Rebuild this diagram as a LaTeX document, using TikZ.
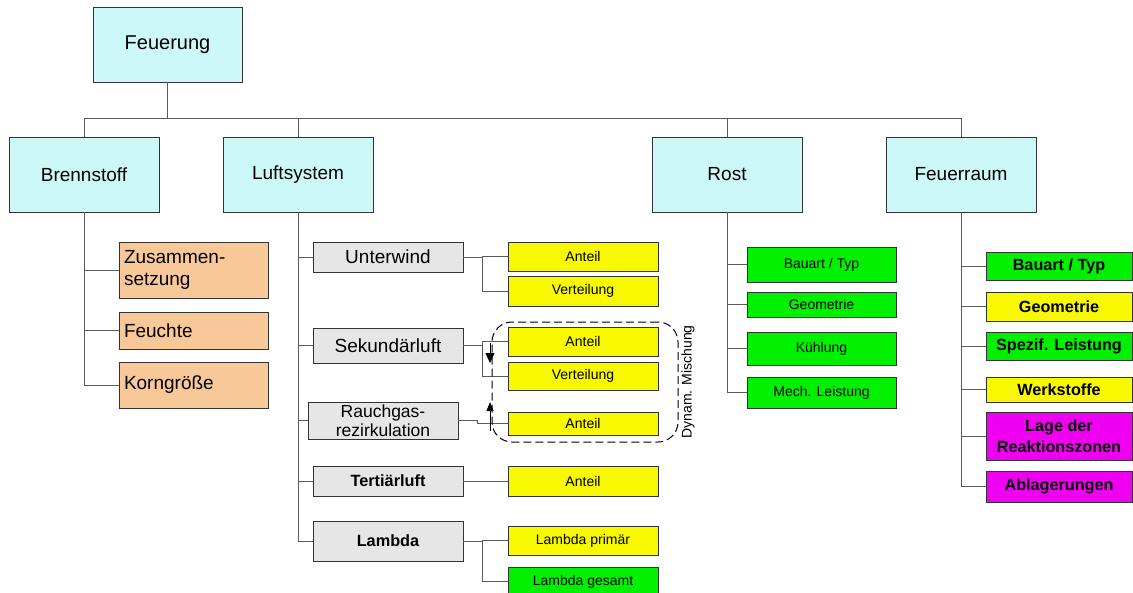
\documentclass[tikz,border=0pt]{standalone}
\usepackage{fontspec}
\setmainfont{Liberation Sans}
\usetikzlibrary{arrows.meta}
\definecolor{cyanbox}{RGB}{204,248,248}
\definecolor{yelbox}{RGB}{248,248,0}
\definecolor{grnbox}{RGB}{0,240,0}
\definecolor{magbox}{RGB}{240,0,240}
\definecolor{grybox}{RGB}{230,230,230}
\definecolor{pchbox}{RGB}{248,200,152}
\definecolor{lncol}{RGB}{90,90,90}
\newcommand{\bx}[7]{\node[#2, minimum width={#5-#3}, minimum height={#6-#4}] (#1) at ({(#3+#5)/2},{(#4+#6)/2}) {#7};}
\tikzset{
  box/.style={draw=black!80, line width=0.9pt, inner sep=0pt, outer sep=0pt, align=center},
  topbox/.style={box, fill=cyanbox, font=\fontsize{19}{22}\selectfont},
  rootbox/.style={box, fill=cyanbox, font=\fontsize{20}{24}\selectfont},
  pchnode/.style={box, fill=pchbox, font=\fontsize{19}{22}\selectfont, align=left, text width=139pt, inner xsep=5pt},
  grynode/.style={box, fill=grybox, font=\fontsize{19}{20}\selectfont},
  gryrauch/.style={box, fill=grybox, font=\fontsize{17.5}{19.5}\selectfont},
  grybold/.style={box, fill=grybox, font=\fontsize{16.3}{19}\selectfont\bfseries},
  ysmall/.style={box, fill=yelbox, font=\fontsize{14}{16}\selectfont},
  gsmall/.style={box, fill=grnbox, font=\fontsize{14}{16}\selectfont},
  gbig/.style={box, fill=grnbox, font=\fontsize{16.2}{21}\selectfont\bfseries},
  ybig/.style={box, fill=yelbox, font=\fontsize{16.2}{21}\selectfont\bfseries},
  mbig/.style={box, fill=magbox, font=\fontsize{16.2}{21}\selectfont\bfseries},
  conn/.style={draw=lncol, line width=0.9pt},
}
\begin{document}
\begin{tikzpicture}[x=1pt, y=-1pt]
\useasboundingbox (0,0) rectangle (1133,592);
\clip (0,0) rectangle (1133,592);
\fill[white] (0,0) rectangle (1133,592);
% level 0 and 1
\bx{feu}{rootbox}{93}{7}{242}{82}{Feuerung}
\bx{brenn}{topbox}{9}{137}{159}{212}{Brennstoff}
\bx{luft}{topbox}{223}{137}{373}{212}{Luftsystem}
\bx{rost}{topbox}{652}{137}{802}{212}{Rost}
\bx{raum}{topbox}{886}{137}{1036}{212}{Feuerraum}
\coordinate (bar) at (0,118);
\draw[conn] (feu.south) -- (feu.south |- bar);
\draw[conn] (brenn.north) |- (raum.north |- bar) -- (raum.north);
\draw[conn] (luft.north) -- (luft.north |- bar);
\draw[conn] (rost.north) -- (rost.north |- bar);
% Brennstoff children
\bx{zus}{pchnode}{119}{242}{268}{298}{Zusammen-\\setzung}
\bx{feucht}{pchnode}{119}{312}{268}{349}{Feuchte}
\bx{korn}{pchnode}{119}{362}{268}{408}{Korngröße}
\draw[conn] (brenn.south) |- (korn.west);
\draw[conn] (brenn.south |- zus.west) -- (zus.west);
\draw[conn] (brenn.south |- feucht.west) -- (feucht.west);
% Luftsystem children
\bx{unter}{grynode}{313}{242}{463}{272}{Unterwind}
\bx{sek}{grynode}{313}{328}{463}{363}{Sekundärluft}
\bx{rauch}{gryrauch}{308}{402}{458}{439}{Rauchgas-\\rezirkulation}
\bx{tert}{grybold}{313}{466}{463}{496}{Tertiärluft}
\bx{lam}{grybold}{313}{521}{463}{561}{Lambda}
\draw[conn] (luft.south) |- (lam.west);
\draw[conn] (luft.south |- unter.west) -- (unter.west);
\draw[conn] (luft.south |- sek.west) -- (sek.west);
\draw[conn] (luft.south |- rauch.west) -- (rauch.west);
\draw[conn] (luft.south |- tert.west) -- (tert.west);
% yellow leaves
\bx{uant}{ysmall}{508}{242}{658}{271}{Anteil}
\bx{uvert}{ysmall}{508}{276}{658}{306}{Verteilung}
\bx{sant}{ysmall}{508}{327}{658}{356}{Anteil}
\bx{svert}{ysmall}{508}{362}{658}{390}{Verteilung}
\bx{rant}{ysmall}{508}{412}{658}{435}{Anteil}
\bx{tant}{ysmall}{508}{466}{658}{496}{Anteil}
\bx{lprim}{ysmall}{508}{526}{658}{555}{Lambda primär}
\bx{lges}{gsmall}{508}{567}{658}{596}{Lambda gesamt}
\coordinate (jx) at (482,0);
\draw[conn] (unter.east) -- (unter.east -| jx) |- (uvert.west);
\draw[conn] (unter.east -| jx) |- (uant.west);
\draw[conn] (sek.east) -- (sek.east -| jx) |- (svert.west);
\draw[conn] (sek.east -| jx) |- (sant.west);
\draw[conn] (rauch.east) -- ++(19,0) |- (rant.west);
\draw[conn] (tert.east) -- (tant.west);
\draw[conn] (lam.east) -- (lam.east -| jx) |- (lges.west);
\draw[conn] (lam.east -| jx) |- (lprim.west);
% mixing arrows and dashed region
\coordinate (d1) at (490,343);
\coordinate (d2) at (490,363);
\coordinate (u1) at (490,431);
\coordinate (u2) at (490,402);
\draw[line width=0.8pt, -{Triangle[width=9pt,length=10pt]}] (d1) -- (d2);
\draw[line width=0.8pt, -{Triangle[width=7pt,length=9pt]}] (u1) -- (u2);
\node[draw=black, line width=1pt, dash pattern=on 8pt off 4pt, rounded corners=20pt, minimum width=186, minimum height=120, inner sep=0pt] (mix) at (585,382) {};
\node[rotate=90, font=\fontsize{14}{16}\selectfont, inner sep=0pt] (mixlbl) at (688,382) {Dynam. Mischung};
% Rost children
\bx{rbau}{gsmall}{747}{247}{896}{282}{Bauart / Typ}
\bx{rgeo}{gsmall}{747}{292}{896}{317}{Geometrie}
\bx{rkuehl}{gsmall}{747}{332}{896}{365}{Kühlung}
\bx{rmech}{gsmall}{747}{377}{896}{408}{Mech. Leistung}
\draw[conn] (rost.south) |- (rmech.west);
\draw[conn] (rost.south |- rbau.west) -- (rbau.west);
\draw[conn] (rost.south |- rgeo.west) -- (rgeo.west);
\draw[conn] (rost.south |- rkuehl.west) -- (rkuehl.west);
% Feuerraum children
\bx{fbau}{gbig}{986}{252}{1132}{280}{Bauart / Typ}
\bx{fgeo}{ybig}{986}{292}{1132}{321}{Geometrie}
\bx{fspez}{gbig}{986}{332}{1132}{360}{Spezif. Leistung}
\bx{fwerk}{ybig}{986}{377}{1132}{402}{Werkstoffe}
\bx{flage}{mbig}{986}{412}{1132}{460}{Lage der\\Reaktionszonen}
\bx{fabl}{mbig}{986}{471}{1132}{502}{Ablagerungen}
\draw[conn] (raum.south) |- (fabl.west);
\draw[conn] (raum.south |- fbau.west) -- (fbau.west);
\draw[conn] (raum.south |- fgeo.west) -- (fgeo.west);
\draw[conn] (raum.south |- fspez.west) -- (fspez.west);
\draw[conn] (raum.south |- fwerk.west) -- (fwerk.west);
\draw[conn] (raum.south |- flage.west) -- (flage.west);
\end{tikzpicture}
\end{document}
